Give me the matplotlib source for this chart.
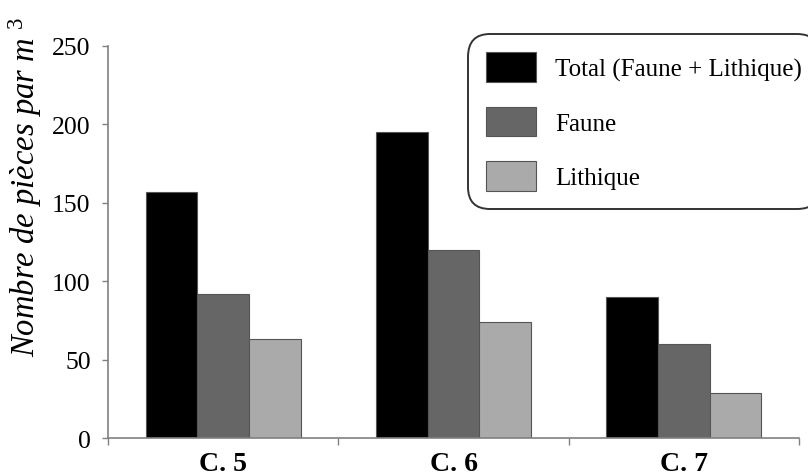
import matplotlib
matplotlib.use("Agg")
import matplotlib.pyplot as plt
import numpy as np
from matplotlib.patches import Patch

categories = ["C. 5", "C. 6", "C. 7"]
series_names = ["Total (Faune + Lithique)", "Faune", "Lithique"]
total = [157, 195, 90]
faune = [92, 120, 60]
lithique = [63, 74, 29]
yticks = [0, 50, 100, 150, 200, 250]
colors = ["#000000", "#666666", "#aaaaaa"]

plt.rcParams['font.family'] = ['Liberation Serif', 'DejaVu Serif']
plt.rcParams['mathtext.fontset'] = 'custom'
plt.rcParams['mathtext.rm'] = 'Liberation Serif'
plt.rcParams['mathtext.it'] = 'Liberation Serif:italic'

fig = plt.figure(figsize=(8.08, 4.77), dpi=100)
ax = fig.add_axes([108/808, 1-439/477, 691/808, 392/477])

x = np.arange(len(categories))
w = 0.224
for i, (vals, c) in enumerate(zip([total, faune, lithique], colors)):
    ax.bar(x + (i - 1) * w, vals, width=w, color=c, edgecolor="#555555", linewidth=0.8, zorder=2)

ax.set_xlim(-0.5, 2.5)
ax.set_ylim(0, 250)
ax.set_yticks(yticks)
ax.set_yticklabels([str(t) for t in yticks], fontsize=18.5)

ax.set_xticks(np.arange(-0.5, 3, 1.0))
ax.set_xticklabels([])
ax.set_xticks(x, minor=True)
ax.set_xticklabels(categories, minor=True, fontsize=20, fontweight='bold')
ax.tick_params(axis='x', which='minor', length=0, pad=9.5)
ax.tick_params(axis='x', which='major', length=5, width=1, color='#808080', direction='out')
ax.tick_params(axis='y', length=4.5, width=1, color='#808080', direction='out', pad=8)

for s in ['top', 'right']:
    ax.spines[s].set_visible(False)
for s in ['left', 'bottom']:
    ax.spines[s].set_color('#808080')
    ax.spines[s].set_linewidth(1.2)

ax.text(-0.120, 0.643, "Nombre de pièces par m $^{3}$", transform=ax.transAxes,
        rotation=90, ha='center', va='center', fontsize=23.5, style='italic')

handles = [Patch(facecolor=c, edgecolor='#555555', linewidth=0.8) for c in colors]
leg = fig.legend(handles, series_names, loc='upper left',
                 bbox_to_anchor=(468/808, 1-35/477), bbox_transform=fig.transFigure,
                 fontsize=18, frameon=True, fancybox=True,
                 handlelength=2.0, handleheight=1.45, labelspacing=1.0,
                 handletextpad=0.75, borderpad=0.72, borderaxespad=0)
frame = leg.get_frame()
frame.set_edgecolor('black')
frame.set_linewidth(1.4)
frame.set_boxstyle('round,pad=0,rounding_size=0.9')

fig.savefig("out.png", dpi=100)
